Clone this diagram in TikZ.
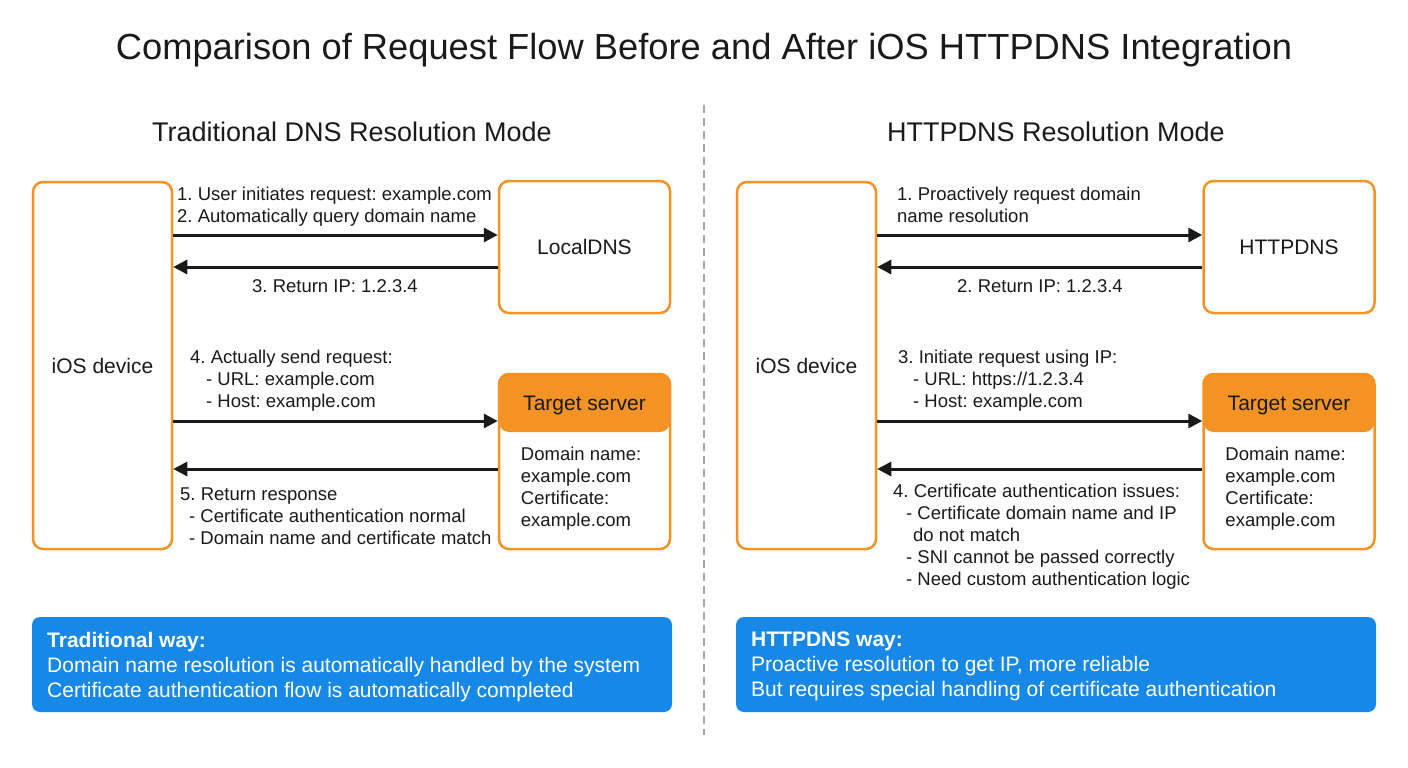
\documentclass[tikz,border=0pt]{standalone}
\usepackage{fontspec}
\setmainfont{Liberation Sans}
\frenchspacing
\usetikzlibrary{arrows.meta,positioning,calc}
\definecolor{boxorange}{HTML}{F39325}
\definecolor{wayblue}{HTML}{1888E6}
\definecolor{inkgray}{HTML}{1A1A1A}
\tikzset{
  devbox/.style={rectangle, rounded corners=10pt, draw=boxorange, line width=2.5pt,
                 fill=white, minimum width=139pt, minimum height=367pt,
                 font=\fontsize{21}{24}\selectfont, text=inkgray},
  dnsbox/.style={devbox, minimum width=171pt, minimum height=132pt},
  srvbox/.style={devbox, minimum width=171pt, minimum height=175pt,
                 path picture={\fill[boxorange] (path picture bounding box.north west)
                   rectangle ([yshift=-58pt]path picture bounding box.north east);}},
  lbl/.style={anchor=north west, inner sep=0pt, align=left, text=inkgray,
              font=\fontsize{18.5}{22}\selectfont},
  waybox/.style={rectangle, rounded corners=8pt, fill=wayblue, minimum width=640pt,
                 minimum height=95pt},
  waytext/.style={anchor=north west, inner sep=0pt, align=left, text=white,
                  font=\fontsize{21}{25}\selectfont},
  flowarr/.style={-{Triangle[length=14pt,width=14pt]}, line width=3pt, draw=inkgray},
}
\begin{document}
\begin{tikzpicture}[x=1pt,y=-1pt]
  \useasboundingbox (0,0) rectangle (1408,768);
  \node[font=\fontsize{36.3}{40}\selectfont, text=inkgray] (title) at (704,50)
    {Comparison of Request Flow Before and After iOS HTTPDNS Integration};
  \node[font=\fontsize{27}{30}\selectfont, text=inkgray] (headL) at (352,132)
    {Traditional DNS Resolution Mode};
  \node[font=\fontsize{27}{30}\selectfont, text=inkgray] (headR) at (1056,132)
    {HTTPDNS Resolution Mode};
  \draw[gray!70, line width=1.3pt, dash pattern=on 8pt off 5pt] (704,105) -- (704,735);

  % traditional side
  \node[devbox] (devL) at (102.5,365.5) {iOS device};
  \node[dnsbox] (dnsL) at (584.5,247) {LocalDNS};
  \node[srvbox] (srvL) at (584.5,461.5) {};
  \node[font=\fontsize{21}{24}\selectfont, text=inkgray] (srvLhead)
    at ([yshift=-33pt]srvL.north) {Target server};
  \node[lbl] (srvLinfo) at ([xshift=23pt,yshift=-74pt]srvL.north west)
    {Domain name:\\example.com\\Certificate:\\example.com};
  \coordinate (yA) at (0,235);
  \coordinate (yB) at (0,267);
  \coordinate (yC) at (0,421);
  \coordinate (yD) at (0,469);
  \draw[flowarr] (devL.east |- yA) -- (dnsL.west |- yA);
  \draw[flowarr] (dnsL.west |- yB) -- (devL.east |- yB);
  \draw[flowarr] (devL.east |- yC) -- (srvL.west |- yC);
  \draw[flowarr] (srvL.west |- yD) -- (devL.east |- yD);
  \node[lbl] (l1) at (177,187)
    {1. User initiates request: example.com\\2. Automatically query domain name};
  \node[lbl] (l3) at (252,279) {3. Return IP: 1.2.3.4};
  \node[lbl] (l4) at (190,350)
    {4. Actually send request:\\\hspace*{16pt}- URL: example.com\\\hspace*{16pt}- Host: example.com};
  \node[lbl] (l5) at (180,488)
    {5. Return response\\\hspace*{9pt}- Certificate authentication normal\\\hspace*{9pt}- Domain name and certificate match};
  \node[waybox] (wayL) at (352,664.5) {};
  \node[waytext] (wayLtxt) at (47,632)
    {\textbf{Traditional way:}\\Domain name resolution is automatically handled by the system\\Certificate authentication flow is automatically completed};

  % httpdns side
  \node[devbox] (devR) at (806.5,365.5) {iOS device};
  \node[dnsbox] (dnsR) at (1289,247) {HTTPDNS};
  \node[srvbox] (srvR) at (1289,461.5) {};
  \node[font=\fontsize{21}{24}\selectfont, text=inkgray] (srvRhead)
    at ([yshift=-33pt]srvR.north) {Target server};
  \node[lbl] (srvRinfo) at ([xshift=23pt,yshift=-74pt]srvR.north west)
    {Domain name:\\example.com\\Certificate:\\example.com};
  \draw[flowarr] (devR.east |- yA) -- (dnsR.west |- yA);
  \draw[flowarr] (dnsR.west |- yB) -- (devR.east |- yB);
  \draw[flowarr] (devR.east |- yC) -- (srvR.west |- yC);
  \draw[flowarr] (srvR.west |- yD) -- (devR.east |- yD);
  \node[lbl] (r1) at (897,187)
    {1. Proactively request domain\\name resolution};
  \node[lbl] (r2) at (957,279) {2. Return IP: 1.2.3.4};
  \node[lbl] (r3) at (898,350)
    {3. Initiate request using IP:\\\hspace*{15pt}- URL: https://1.2.3.4\\\hspace*{15pt}- Host: example.com};
  \node[lbl] (r4) at (893,484)
    {4. Certificate authentication issues:\\\hspace*{13pt}- Certificate domain name and IP\\\hspace*{20pt}do not match\\\hspace*{13pt}- SNI cannot be passed correctly\\\hspace*{13pt}- Need custom authentication logic};
  \node[waybox] (wayR) at (1056,664.5) {};
  \node[waytext] (wayRtxt) at (751,632)
    {\textbf{HTTPDNS way:}\\Proactive resolution to get IP, more reliable\\But requires special handling of certificate authentication};
\end{tikzpicture}
\end{document}
